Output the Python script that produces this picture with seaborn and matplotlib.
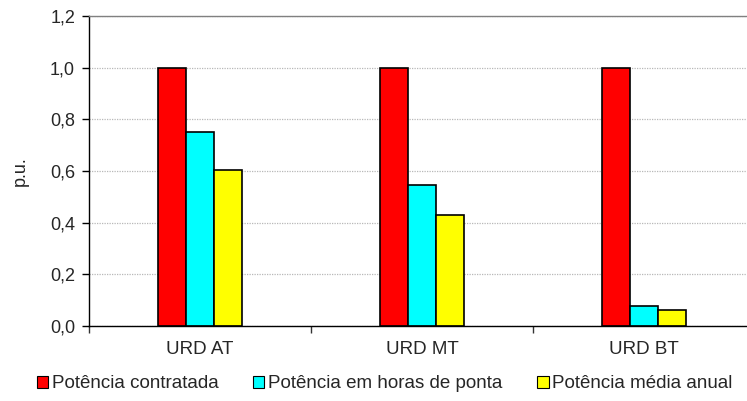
import matplotlib
matplotlib.use("Agg")
import matplotlib.pyplot as plt
import seaborn as sns
import pandas as pd
from matplotlib.patches import Patch

categories = ["URD AT", "URD MT", "URD BT"]
series = ["Potência contratada", "Potência em horas de ponta", "Potência média anual"]
contratada = [1.0, 1.0, 1.0]
ponta = [0.75, 0.546, 0.077]
media = [0.604, 0.429, 0.062]
yticks = [0.0, 0.2, 0.4, 0.6, 0.8, 1.0, 1.2]
ytick_labels = ["0,0", "0,2", "0,4", "0,6", "0,8", "1,0", "1,2"]
colors = ["#FF0000", "#00FFFF", "#FFFF00"]

rows = []
for name, vals in zip(series, [contratada, ponta, media]):
    for c, v in zip(categories, vals):
        rows.append({"cat": c, "serie": name, "val": v})
df = pd.DataFrame(rows)

sns.set_style("white")
plt.rcParams["font.family"] = ["Liberation Sans", "DejaVu Sans"]

fig = plt.figure(figsize=(7.47, 4.01), dpi=100)
ax = fig.add_axes([89 / 747, 75 / 401, 666 / 747, 310 / 401])

sns.barplot(data=df, x="cat", y="val", hue="serie", order=categories,
            hue_order=series, palette=colors, width=0.375, gap=0,
            edgecolor="black", linewidth=1.2, saturation=1, ax=ax, legend=False)

ax.set_xlim(-0.5, 2.5)
ax.set_ylim(0, 1.2)
ax.set_yticks(yticks)
ax.set_yticklabels(ytick_labels, fontsize=13)
ax.set_xticks(range(len(categories)))
ax.set_xticklabels(categories, fontsize=13.5)
ax.set_xticks([-0.5, 0.5, 1.5, 2.5], minor=True)
ax.tick_params(axis="x", which="major", bottom=True, length=0, pad=11)
ax.tick_params(axis="x", which="minor", bottom=True, length=5, width=1, color="#333333", direction="out")
ax.tick_params(axis="y", left=True, length=5, width=1, color="black", direction="out", pad=5)
ax.set_xlabel("")
ax.set_ylabel("p.u.", fontsize=13, labelpad=15)

ax.yaxis.grid(True, color="#b8b8b8", linestyle=(0, (1, 1)), linewidth=0.9)
ax.set_axisbelow(True)
for s in ["left", "bottom"]:
    ax.spines[s].set_color("black")
    ax.spines[s].set_linewidth(1)
ax.spines["top"].set_color("#808080")
ax.spines["top"].set_linewidth(1)
ax.spines["right"].set_visible(False)

handles = [Patch(facecolor=c, edgecolor="black", linewidth=0.8) for c in colors]
fig.legend(handles, series, loc="center", bbox_to_anchor=(0.515, 0.043), ncol=3,
           frameon=False, fontsize=13.5, handlelength=0.6, handleheight=0.6,
           handletextpad=0.2, columnspacing=1.85, borderaxespad=0)

fig.savefig("out.png", dpi=100)
